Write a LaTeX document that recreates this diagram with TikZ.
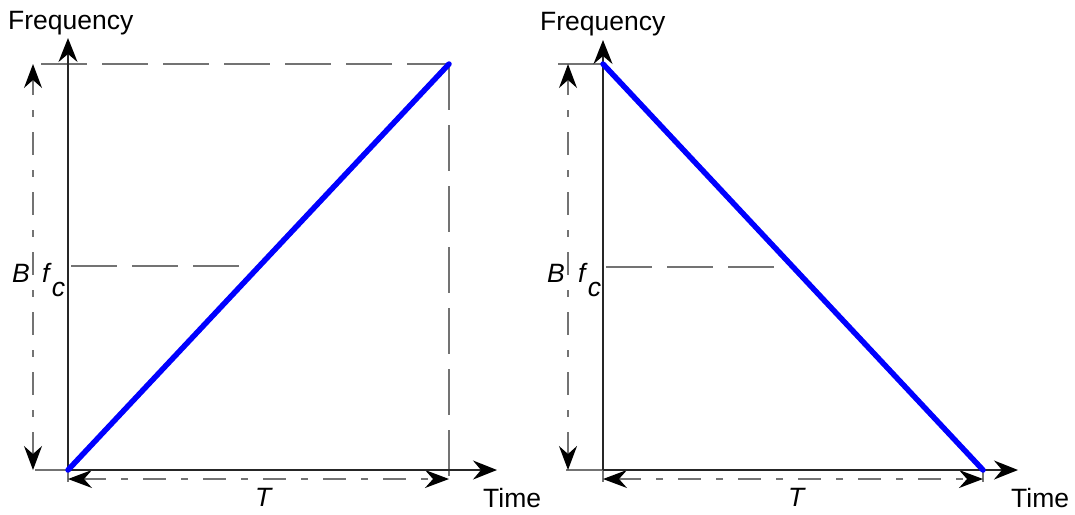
\documentclass[tikz,border=0pt]{standalone}
\usepackage{fontspec}
\setmainfont{Liberation Sans}
\usetikzlibrary{arrows.meta}
\begin{document}
\begin{tikzpicture}[x=1pt,y=-1pt,
  axis/.style={line width=1.8pt, black!85, -{Stealth[length=24pt,width=19pt,inset=8pt,color=black]}},
  ext/.style={line width=1.2pt, black!55},
  dashln/.style={line width=1.3pt, black!55, dash pattern=on 46pt off 15pt},
  dimln/.style={line width=1.3pt, black!55, dash pattern=on 23pt off 15pt on 7pt off 15pt,
     {Stealth[length=24pt,width=18pt,inset=8pt,color=black]}-{Stealth[length=24pt,width=18pt,inset=8pt,color=black]}},
  chirp/.style={line width=5.5pt, blue, line cap=round},
  lbl/.style={font=\fontsize{26.5}{31}\selectfont, inner sep=0pt, anchor=base west}]
\useasboundingbox (0,0) rectangle (1075,514);

% ---------- left panel ----------
\coordinate (lo) at (68,470);
\coordinate (ly) at (68,38);
\coordinate (lx) at (497,470);
\coordinate (ltr) at (449,64);
\coordinate (ltl) at (41,64);
\coordinate (lbr) at (449,482);
\coordinate (lbl) at (35,470);
\coordinate (lob) at (68,482);
\coordinate (lfa) at (71,266);
\coordinate (lfb) at (240,266);
\coordinate (lBb) at (33,470);
\coordinate (lBt) at (33,64);
\coordinate (lTa) at (68,479);
\coordinate (lTb) at (449,479);

\draw[ext] (lbl) -- (lo);
\draw[ext] (lo) -- (lob);
\draw[dashln] (ltl) -- (ltr);
\draw[dashln] (ltr) -- (lbr);
\draw[dashln] (lfa) -- (lfb);
\draw[dimln] (lBb) -- (lBt);
\draw[dimln] (lTa) -- (lTb);
\draw[axis] (lo) -- (ly);
\draw[axis] (lo) -- (lx);
\draw[chirp] (lo) -- (ltr);

\node[lbl] (lfreq) at (8,29) {Frequency};
\node[lbl] (ltime) at (483,507) {Time};
\node[lbl] (lT) at (255,506) {\textit{T}};
\node[lbl] (lB) at (12,282) {\textit{B}};
\node[lbl] (lfc) at (42,282) {\textit{f}\kern0pt\raisebox{-14pt}{\textit{c}}};

% ---------- right panel ----------
\coordinate (ro) at (603,470);
\coordinate (ry) at (603,40);
\coordinate (rx) at (1018,470);
\coordinate (rtl) at (603,64);
\coordinate (rtle) at (558,64);
\coordinate (rbr) at (983,470);
\coordinate (rbrb) at (983,482);
\coordinate (rbl) at (566,470);
\coordinate (rob) at (603,482);
\coordinate (rfa) at (606,267);
\coordinate (rfb) at (775,267);
\coordinate (rBb) at (568,470);
\coordinate (rBt) at (568,64);
\coordinate (rTa) at (603,479);
\coordinate (rTb) at (983,479);

\draw[ext] (rbl) -- (ro);
\draw[ext] (ro) -- (rob);
\draw[ext] (rtle) -- (rtl);
\draw[ext] (rbr) -- (rbrb);
\draw[dashln] (rfa) -- (rfb);
\draw[dimln] (rBb) -- (rBt);
\draw[dimln] (rTa) -- (rTb);
\draw[axis] (ro) -- (ry);
\draw[axis] (ro) -- (rx);
\draw[chirp] (rtl) -- (rbr);

\node[lbl] (rfreq) at (540,30) {Frequency};
\node[lbl] (rtime) at (1011,507) {Time};
\node[lbl] (rT) at (788,506) {\textit{T}};
\node[lbl] (rB) at (547,282) {\textit{B}};
\node[lbl] (rfc) at (578,282) {\textit{f}\kern0pt\raisebox{-14pt}{\textit{c}}};
\end{tikzpicture}
\end{document}
